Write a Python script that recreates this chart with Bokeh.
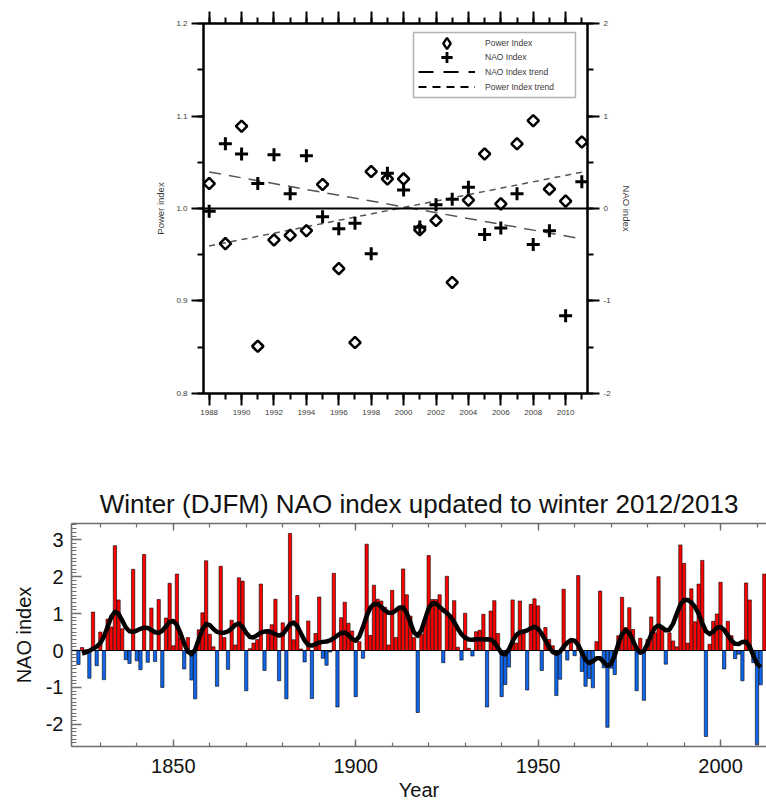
import numpy as np
from bokeh.plotting import figure
from bokeh.models import (Range1d, LinearAxis, SingleIntervalTicker, Span, Legend, LegendItem,
                          NumeralTickFormatter, BoxAnnotation, ColumnDataSource)
from bokeh.embed import file_html
from bokeh.resources import INLINE

# ---------------- top chart data ----------------
years_top = list(range(1988, 2012))
power_index = [1.027, 0.962, 1.089, 0.851, 0.966, 0.971, 0.976, 1.026, 0.935, 0.855, 1.040, 1.032,
               1.032, 0.977, 0.987, 0.920, 1.009, 1.059, 1.005, 1.070, 1.095, 1.021, 1.008, 1.072]
nao_top = [-0.03, 0.70, 0.59, 0.27, 0.58, 0.16, 0.57, -0.09, -0.22, -0.16, -0.49, 0.38,
           0.20, -0.20, 0.04, 0.10, 0.23, -0.28, -0.21, 0.16, -0.39, -0.24, -1.16, 0.29]
legend_labels = ["Power Index", "NAO Index", "NAO Index trend", "Power Index trend"]

# ---------------- bottom chart data ----------------
nao_years = list(range(1824, 2013))
nao_winter = [
    -0.38, 0.08, 0.02, -0.75, 1.04, -0.41, 0.50, -0.79, 0.85, 0.64,
    2.84, 1.37, 0.59, -0.25, -0.35, 2.20, -0.28, -0.52, 2.60, -0.32,
    1.15, -0.30, 1.38, -1.00, 0.88, 1.82, 0.13, 2.07, 0.35, -0.50,
    0.35, -0.80, -1.31, 0.56, 1.02, 2.43, 0.44, 0.10, -0.97, 2.28,
    0.35, -0.51, 0.82, 0.15, 1.97, 1.88, -1.09, 0.05, 0.20, 0.30,
    1.80, -0.54, 0.57, 0.70, 1.39, -0.82, 0.75, -1.31, 3.17, 0.29,
    1.49, 0.04, -0.31, 0.80, -1.30, 0.46, 1.45, -0.21, -0.40, -0.04,
    2.09, -1.53, 0.89, 1.31, 0.74, 0.53, -1.25, 0.24, -0.21, 2.88,
    0.41, 1.77, 1.39, 1.34, 1.17, 0.15, 1.63, 0.35, 1.10, 2.21,
    1.51, 0.93, 0.35, -1.68, 0.44, 0.79, 2.57, 1.38, 1.38, 1.51,
    -0.33, 2.01, 0.95, 1.35, 0.09, -0.26, 1.01, 0.06, -0.15, 0.51,
    0.55, 0.98, -1.53, 1.07, 1.35, 0.46, -1.25, -0.92, -0.45, 1.37,
    0.20, 1.34, 0.53, -1.07, 1.25, 1.40, 1.21, -0.54, 0.62, 0.30,
    0.13, -1.22, -0.78, 1.66, -0.26, 0.30, -0.14, 2.03, -0.57, -0.97,
    -0.76, -1.01, 0.24, 1.61, -0.47, -2.08, -0.48, -0.65, 0.40, 1.44,
    0.62, 1.16, 0.57, -1.09, 0.33, -1.35, 0.30, 0.91, 0.48, 2.00,
    0.57, -0.37, 0.48, 0.26, 0.10, 2.86, 2.36, 0.20, 1.67, 0.78,
    1.80, 2.44, -2.33, 0.17, 0.79, 0.99, 1.85, -0.50, 0.79, 0.40,
    -0.22, -0.10, -0.82, 1.83, 1.37, -0.33, -2.56, -0.93, 2.07,
]

FONT = "Liberation Sans"
TXT_TOP = "#3a3a3a"

# ================= TOP FIGURE =================
p1 = figure(width=766, height=430, x_range=Range1d(1987.65, 2011.35),
            y_range=Range1d(0.7999, 1.2001),
            output_backend="svg", toolbar_location=None,
            min_border_left=203, min_border_right=179, min_border_top=23, min_border_bottom=37,
            x_axis_location=None, y_axis_location=None)
p1.extra_y_ranges = {"nao": Range1d(-2.0005, 2.0005)}
p1.xgrid.visible = False
p1.ygrid.visible = False
p1.outline_line_color = "black"
p1.outline_line_width = 2


def style_top_axis(ax, labels=True):
    ax.axis_line_color = "black"
    ax.axis_line_width = 2
    ax.major_tick_line_color = "black"
    ax.major_tick_line_width = 2
    ax.minor_tick_line_color = "black"
    ax.minor_tick_line_width = 2
    ax.major_tick_out = 12
    ax.major_tick_in = 0
    ax.minor_tick_out = 6
    ax.minor_tick_in = 0
    ax.major_label_text_font = FONT
    ax.major_label_text_font_size = "8px" if labels else "1px"
    ax.major_label_text_color = TXT_TOP if labels else None
    ax.major_label_standoff = 4
    ax.axis_label_text_font = FONT
    ax.axis_label_text_font_size = "9.5px"
    ax.axis_label_text_font_style = "normal"
    ax.axis_label_text_color = TXT_TOP
    ax.axis_label_standoff = 7


xb = LinearAxis(ticker=SingleIntervalTicker(interval=2, num_minor_ticks=2))
style_top_axis(xb)
p1.add_layout(xb, "below")
xt = LinearAxis(ticker=SingleIntervalTicker(interval=2, num_minor_ticks=2))
style_top_axis(xt, labels=False)
p1.add_layout(xt, "above")
yl = LinearAxis(ticker=SingleIntervalTicker(interval=0.1, num_minor_ticks=2),
                formatter=NumeralTickFormatter(format="0.0"), axis_label="Power index")
style_top_axis(yl)
p1.add_layout(yl, "left")
yr = LinearAxis(y_range_name="nao", ticker=SingleIntervalTicker(interval=1, num_minor_ticks=2),
                formatter=NumeralTickFormatter(format="0"), axis_label="NAO index")
style_top_axis(yr)
p1.add_layout(yr, "right")

p1.add_layout(Span(location=1.0, dimension="width", line_color="black", line_width=2))

trend_x = [years_top[0], years_top[-1]]
nao_trend = np.polyval(np.polyfit(years_top, nao_top, 1), trend_x)
pow_trend = np.polyval(np.polyfit(years_top, power_index, 1), trend_x)
p1.line(trend_x, nao_trend, y_range_name="nao", line_color="#555555", line_width=1.5,
        line_dash="12 8")
p1.line(trend_x, pow_trend, line_color="#555555", line_width=1.5, line_dash="6 5")

p1.scatter(years_top, power_index, marker="square", angle=45, angle_units="deg", size=8,
           fill_color=None, line_color="black", line_width=2.5)
p1.scatter(years_top, nao_top, y_range_name="nao", marker="cross", size=13,
           line_color="black", line_width=3)

# ---- legend: box + one Bokeh legend per row group ----
p1.add_layout(BoxAnnotation(left=210, right=372, bottom=296, top=361,
                            left_units="screen", right_units="screen",
                            bottom_units="screen", top_units="screen",
                            fill_color="white", fill_alpha=1.0,
                            line_color="black", line_width=1.5))
# legend-only renderers (NaN data: nothing drawn in the plot area)
blank = ColumnDataSource(data=dict(x=[np.nan], y=[np.nan]))
lg_pow = p1.scatter("x", "y", source=blank, marker="diamond", fill_color=None,
                    line_color="black", line_width=2.3)
lg_nao = p1.scatter("x", "y", source=blank, marker="cross", line_color="black", line_width=2.8)
lg_nt = p1.line("x", "y", source=blank, line_color="black", line_width=2, line_dash="15 10")
lg_pt = p1.line("x", "y", source=blank, line_color="black", line_width=2, line_dash="8 6")


def make_legend(items, loc, gh):
    lg = Legend(items=items, location=loc)
    lg.border_line_color = None
    lg.background_fill_alpha = 0
    lg.padding = 0
    lg.spacing = 0
    lg.margin = 0
    lg.glyph_width = 57
    lg.glyph_height = gh
    lg.label_height = 10
    lg.label_standoff = 10
    lg.label_text_font = FONT
    lg.label_text_font_size = "8.5px"
    lg.label_text_color = TXT_TOP
    p1.add_layout(lg, "center")


make_legend([LegendItem(label=legend_labels[0], renderers=[lg_pow])], (215, 336), 28)
make_legend([LegendItem(label=legend_labels[1], renderers=[lg_nao])], (215, 322), 28)
make_legend([LegendItem(label=legend_labels[2], renderers=[lg_nt]),
             LegendItem(label=legend_labels[3], renderers=[lg_pt])], (215, 299), 15)

# ================= BOTTOM FIGURE =================
p2 = figure(width=766, height=373, x_range=Range1d(1822.1, 2012.6), y_range=Range1d(-2.6, 3.44),
            output_backend="svg", toolbar_location=None,
            min_border_left=71, min_border_right=0, min_border_top=93, min_border_bottom=53,
            x_axis_location=None, y_axis_location=None)
p2.xgrid.visible = False
p2.ygrid.visible = False
p2.outline_line_color = None
p2.title.text = "Winter (DJFM) NAO index updated to winter 2012/2013"
p2.title.align = "center"
p2.title.text_font = FONT
p2.title.text_font_size = "26px"
p2.title.text_font_style = "normal"
p2.title.text_color = "#111111"
p2.title.standoff = 10

AX = "#6e6e6e"


def style_bot_axis(ax, mj_in, mn_in, labels=True):
    ax.axis_line_color = AX
    ax.axis_line_width = 1.6
    ax.major_tick_line_color = AX
    ax.major_tick_line_width = 1.4
    ax.minor_tick_line_color = AX
    ax.minor_tick_line_width = 1.2
    ax.major_tick_out = 0
    ax.major_tick_in = mj_in
    ax.minor_tick_out = 0
    ax.minor_tick_in = mn_in
    ax.major_label_text_font = FONT
    ax.major_label_text_font_size = "20px" if labels else "1px"
    ax.major_label_text_color = "#111111" if labels else None
    ax.major_label_standoff = 8
    ax.axis_label_text_font = FONT
    ax.axis_label_text_font_size = "20px"
    ax.axis_label_text_font_style = "normal"
    ax.axis_label_text_color = "#111111"
    ax.axis_label_standoff = 2


bx = LinearAxis(ticker=SingleIntervalTicker(interval=50, num_minor_ticks=5), axis_label="Year")
style_bot_axis(bx, 7, 4)
bx.major_label_standoff = 12
bx.axis_label_standoff = 3
p2.add_layout(bx, "below")
tx = LinearAxis(ticker=SingleIntervalTicker(interval=50, num_minor_ticks=5))
style_bot_axis(tx, 7, 4, labels=False)
p2.add_layout(tx, "above")
ly = LinearAxis(ticker=SingleIntervalTicker(interval=1, num_minor_ticks=10),
                formatter=NumeralTickFormatter(format="0"), axis_label="NAO index")
style_bot_axis(ly, 10, 5)
ly.axis_label_standoff = 8
p2.add_layout(ly, "left")

bar_colors = ["#FF0000" if v >= 0 else "#1166EE" for v in nao_winter]
p2.vbar(x=nao_years, top=nao_winter, bottom=0, width=0.9, fill_color=bar_colors,
        line_color="black", line_width=0.6)
p2.add_layout(Span(location=0, dimension="width", line_color="black", line_width=1))


def gauss_smooth(v, sigma=2.0):
    half = int(3 * sigma)
    k = np.exp(-0.5 * (np.arange(-half, half + 1) / sigma) ** 2)
    k /= k.sum()
    pad = np.pad(np.asarray(v, dtype=float), half, mode="reflect")
    return np.convolve(pad, k, mode="valid")


smooth = gauss_smooth(nao_winter)
p2.line(nao_years[1:-1], smooth[1:-1], line_color="black", line_width=4.5, line_join="round")

open("out.html", "w").write(file_html([p1, p2], INLINE))
